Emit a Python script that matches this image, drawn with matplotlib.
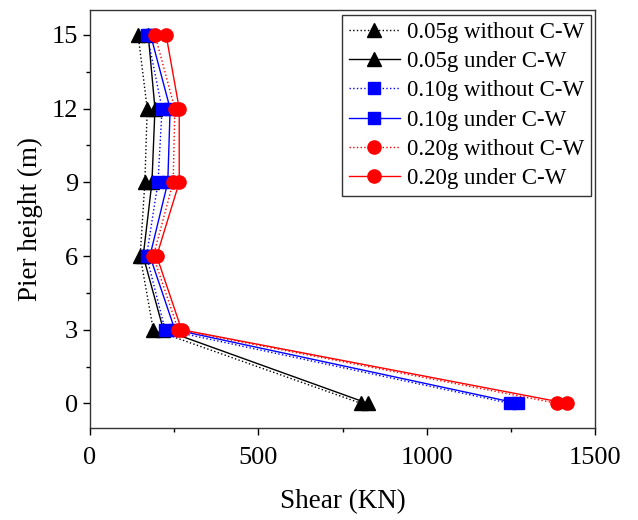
import matplotlib
matplotlib.use("Agg")
import matplotlib.pyplot as plt
from matplotlib.ticker import MultipleLocator

plt.rcParams['font.family'] = ['Liberation Serif', 'DejaVu Serif']

height = [0, 3, 6, 9, 12, 15]

s005_without = [805, 188, 149, 163, 170, 143]
s005_under = [825, 218, 158, 184, 193, 173]
s010_without = [1247, 223, 168, 202, 214, 170]
s010_under = [1271, 252, 178, 231, 238, 180]
s020_without = [1387, 262, 188, 247, 252, 193]
s020_under = [1417, 272, 198, 265, 265, 226]

labels = ["0.05g without C-W", "0.05g under C-W",
          "0.10g without C-W", "0.10g under C-W",
          "0.20g without C-W", "0.20g under C-W"]

fig = plt.figure(figsize=(6.38, 5.2), dpi=100)
ax = fig.add_axes([0.141, 0.177, 0.792, 0.803])

series = [
    (s005_without, 'black', ':', '^', 10),
    (s005_under, 'black', '-', '^', 10),
    (s010_without, 'blue', ':', 's', 8.5),
    (s010_under, 'blue', '-', 's', 8.5),
    (s020_without, 'red', ':', 'o', 9.5),
    (s020_under, 'red', '-', 'o', 9.5),
]
for (vals, c, ls, m, ms), lab in zip(series, labels):
    ax.plot(vals, height, color=c, linestyle=ls, linewidth=1.0, marker=m,
            markersize=ms, markeredgecolor=c, markerfacecolor=c, label=lab)

ax.set_xlim(0, 1500)
ax.set_ylim(-1, 16)
ax.set_xticks([0, 500, 1000, 1500])
ax.set_yticks([0, 3, 6, 9, 12, 15])
ax.xaxis.set_minor_locator(MultipleLocator(250))
ax.yaxis.set_minor_locator(MultipleLocator(1.5))
ax.tick_params(which='major', direction='out', length=5, width=1, labelsize=19,
               top=False, right=False)
ax.tick_params(axis='x', which='major', pad=9)
ax.tick_params(which='minor', direction='out', length=3, width=1,
               top=False, right=False)
for sp in ax.spines.values():
    sp.set_linewidth(1.0)
    sp.set_color('#333333')

ax.set_xlabel("Shear (KN)", fontsize=19.5, labelpad=14)
ax.set_ylabel("Pier height (m)", fontsize=19.5, labelpad=6)

leg = ax.legend(loc='upper right', fontsize=16.5, frameon=True, fancybox=False,
                edgecolor='black', handlelength=2.2, handletextpad=0.3,
                labelspacing=0.36, borderpad=0.3, borderaxespad=0.2)
leg.get_frame().set_linewidth(1.0)

fig.savefig("out.png", dpi=100)
